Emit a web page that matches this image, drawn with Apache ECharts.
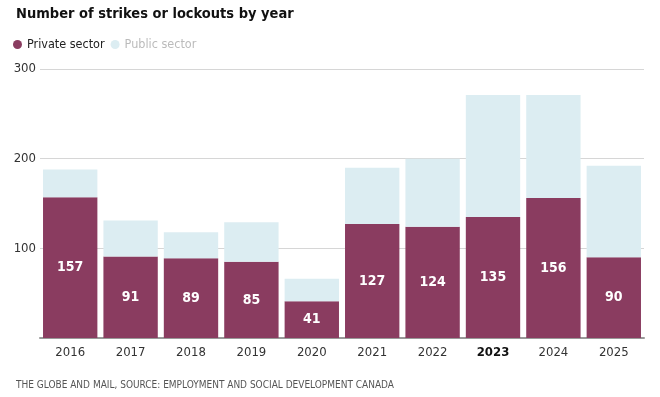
<!DOCTYPE html>
<html>
<head>
<meta charset="utf-8">
<script src="https://cdn.jsdelivr.net/npm/echarts@6/dist/echarts.min.js"></script>
<style>
  html, body { margin: 0; padding: 0; background: #fff; }
  #chart { width: 660px; height: 397px; }
</style>
</head>
<body>
<div id="chart"></div>
<script>
  // data
  const years = ['2016', '2017', '2018', '2019', '2020', '2021', '2022', '2023', '2024', '2025'];
  const privateSector = [157, 91, 89, 85, 41, 127, 124, 135, 156, 90];
  const publicSector = [31, 40, 29, 44, 25, 63, 76, 136, 115, 102];
  const yTicks = [100, 200, 300];

  const font = '"DejaVu Sans Condensed", "Noto Sans", sans-serif';
  const myChart = echarts.init(document.getElementById('chart'));

  const option = {
    animation: false,
    textStyle: { fontFamily: font },
    title: [{
      text: 'Number of strikes or lockouts by year',
      left: 11,
      top: 2,
      textStyle: { fontSize: 14.5, fontWeight: 'bold', color: '#111', fontFamily: font }
    }, {
      text: 'THE GLOBE AND MAIL, SOURCE: EMPLOYMENT AND SOCIAL DEVELOPMENT CANADA',
      left: 11,
      top: 375,
      textStyle: { fontSize: 10, fontWeight: 'normal', color: '#555', fontFamily: font }
    }],
    legend: {
      left: 8,
      top: 33,
      icon: 'circle',
      itemWidth: 9,
      itemHeight: 9,
      itemGap: 6,
      selectedMode: false,
      data: [
        { name: 'Private sector', textStyle: { color: '#222' } },
        { name: 'Public sector', textStyle: { color: '#bbb' } }
      ],
      textStyle: { fontSize: 12.5, fontFamily: font }
    },
    grid: { left: 40, right: 16, top: 69, bottom: 59 },
    xAxis: {
      type: 'category',
      data: years,
      axisTick: { show: false },
      axisLine: { lineStyle: { color: '#999', width: 2 } },
      axisLabel: {
        interval: 0,
        color: '#333',
        fontSize: 13,
        margin: 8,
        formatter: v => v === '2023' ? '{b|' + v + '}' : v,
        rich: { b: { fontWeight: 'bold', color: '#111', fontSize: 13 } }
      }
    },
    yAxis: {
      type: 'value',
      min: 0,
      max: 300,
      interval: 100,
      axisLine: { show: false },
      axisTick: { show: false },
      axisLabel: {
        color: '#333',
        fontSize: 13,
        margin: 4,
        formatter: v => yTicks.includes(v) ? String(v) : ''
      },
      splitLine: { lineStyle: { color: '#d6d6d6' } }
    },
    series: [{
      name: 'Private sector',
      type: 'bar',
      stack: 'total',
      barWidth: '90%',
      itemStyle: { color: '#8a3c60' },
      label: {
        show: true,
        position: 'inside',
        color: '#fff',
        fontWeight: 'bold',
        fontSize: 14
      },
      data: privateSector
    }, {
      name: 'Public sector',
      type: 'bar',
      stack: 'total',
      barWidth: '90%',
      itemStyle: { color: '#dcedf2' },
      data: publicSector
    }]
  };

  myChart.setOption(option);
</script>
</body>
</html>
